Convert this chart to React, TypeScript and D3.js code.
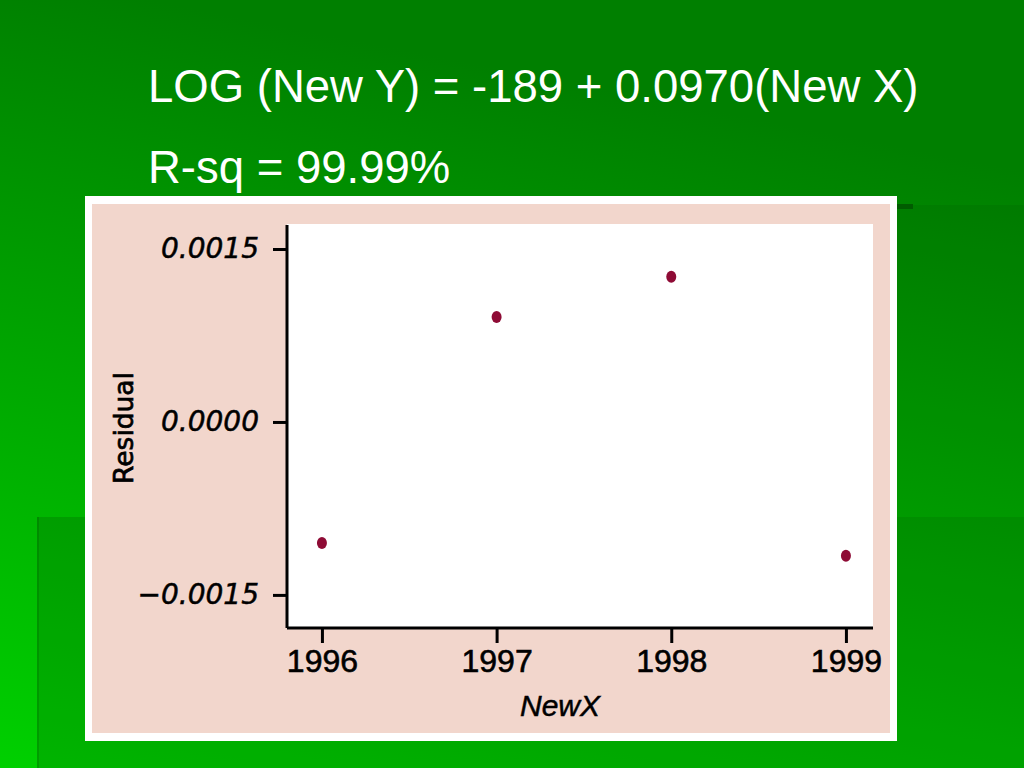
import React, { useRef, useEffect } from 'react';
import * as d3 from 'd3';

// residuals of LOG(New Y) against New X
const years = [1996, 1997, 1998, 1999];
const residuals = [-0.00105, 0.00091, 0.00126, -0.00116];
const yTickValues = [-0.0015, 0, 0.0015];
const yTickLabels = ['−0.0015', '0.0000', '0.0015'];
const titleLines = ['LOG (New Y) = -189 + 0.0970(New X)', 'R-sq = 99.99%'];

const W = 1024;
const H = 768;

const ResidualSlide: React.FC = () => {
  const svgRef = useRef<SVGSVGElement | null>(null);

  useEffect(() => {
    const svg = d3.select(svgRef.current!);
    svg.selectAll('*').remove();

    // slide background
    const defs = svg.append('defs');
    const grad = defs.append('linearGradient')
      .attr('id', 'bg')
      .attr('gradientUnits', 'userSpaceOnUse')
      .attr('x1', 0).attr('y1', H)
      .attr('x2', 150).attr('y2', 0);
    grad.append('stop').attr('offset', 0).attr('stop-color', '#00d000');
    grad.append('stop').attr('offset', 1).attr('stop-color', '#007f00');

    svg.append('rect').attr('width', W).attr('height', H).attr('fill', 'url(#bg)');
    svg.append('rect')
      .attr('x', 37).attr('y', 517).attr('width', W - 37).attr('height', H - 517)
      .attr('fill', '#000').attr('opacity', 0.13);
    svg.append('rect')
      .attr('x', 37).attr('y', 517).attr('width', 2).attr('height', H - 517)
      .attr('fill', '#000').attr('opacity', 0.12);
    svg.append('rect')
      .attr('x', 897).attr('y', 205).attr('width', W - 897).attr('height', 312)
      .attr('fill', '#000').attr('opacity', 0.06);
    svg.append('rect')
      .attr('x', 895).attr('y', 204).attr('width', 18).attr('height', 5)
      .attr('fill', '#005c00');

    // equation text
    svg.selectAll('text.title')
      .data(titleLines)
      .enter()
      .append('text')
      .attr('class', 'title')
      .attr('x', 148)
      .attr('y', (_d, i) => 102 + i * 81)
      .attr('fill', '#fff')
      .style('font-family', '"Liberation Sans", Arial, sans-serif')
      .style('font-size', '45.5px')
      .text((d) => d);

    // picture frame
    svg.append('rect').attr('x', 85).attr('y', 196).attr('width', 812).attr('height', 545).attr('fill', '#fff');
    svg.append('rect').attr('x', 92).attr('y', 204).attr('width', 798).attr('height', 529).attr('fill', '#f2d6cc');

    const left = 287;
    const right = 873;
    const top = 224;
    const bottom = 628;

    svg.append('rect')
      .attr('x', left).attr('y', top).attr('width', right - left).attr('height', bottom - top)
      .attr('fill', '#fff');

    const x = d3.scaleLinear().domain([1995.8, 1999.155]).range([left, right]);
    const y = d3.scaleLinear().domain([-0.001787, 0.001717]).range([bottom, top]);

    const yAxis = d3.axisLeft(y)
      .tickValues(yTickValues)
      .tickSize(14)
      .tickPadding(14)
      .tickFormat((_d, i) => yTickLabels[i]);

    const gy = svg.append('g').attr('transform', `translate(${left},0)`).call(yAxis);
    gy.select('.domain').attr('d', `M0,${top + 1}V${bottom}`).attr('stroke', '#000').attr('stroke-width', 3);
    gy.selectAll('.tick line').attr('stroke', '#000').attr('stroke-width', 3);
    gy.selectAll('.tick text')
      .attr('fill', '#000')
      .attr('stroke', '#000')
      .attr('stroke-width', 0.5)
      .style('font-family', '"DejaVu Sans", sans-serif')
      .style('font-style', 'oblique')
      .style('font-size', '28px');

    const xAxis = d3.axisBottom(x)
      .tickValues(years)
      .tickSize(15)
      .tickPadding(6)
      .tickFormat(d3.format('d'));

    const gx = svg.append('g').attr('transform', `translate(0,${bottom})`).call(xAxis);
    gx.select('.domain').attr('d', `M${left},0H${right}`).attr('stroke', '#000').attr('stroke-width', 3);
    gx.selectAll('.tick line').attr('stroke', '#000').attr('stroke-width', 3);
    gx.selectAll('.tick text')
      .attr('fill', '#000')
      .attr('stroke', '#000')
      .attr('stroke-width', 0.6)
      .style('font-family', '"Liberation Sans", Arial, sans-serif')
      .style('font-size', '32px');

    // axis titles
    svg.append('text')
      .attr('x', 560).attr('y', 716)
      .attr('text-anchor', 'middle')
      .attr('fill', '#000')
      .attr('stroke', '#000')
      .attr('stroke-width', 0.5)
      .style('font-family', '"Liberation Sans", Arial, sans-serif')
      .style('font-style', 'italic')
      .style('font-size', '30px')
      .text('NewX');

    svg.append('text')
      .attr('transform', 'translate(133,428) rotate(-90)')
      .attr('text-anchor', 'middle')
      .attr('fill', '#000')
      .attr('stroke', '#000')
      .attr('stroke-width', 0.7)
      .style('font-family', '"DejaVu Sans", sans-serif')
      .style('font-size', '26.5px')
      .text('Residual');

    // residual points
    svg.selectAll('ellipse.pt')
      .data(years.map((yr, i) => ({ yr, r: residuals[i] })))
      .enter()
      .append('ellipse')
      .attr('class', 'pt')
      .attr('cx', (d) => x(d.yr))
      .attr('cy', (d) => y(d.r))
      .attr('rx', 5)
      .attr('ry', 6)
      .attr('fill', '#8e0b35');
  }, []);

  return (
    <svg
      ref={svgRef}
      width={W}
      height={H}
      style={{ position: 'fixed', left: 0, top: 0, display: 'block' }}
    />
  );
};

export default function App() {
  return <ResidualSlide />;
}
